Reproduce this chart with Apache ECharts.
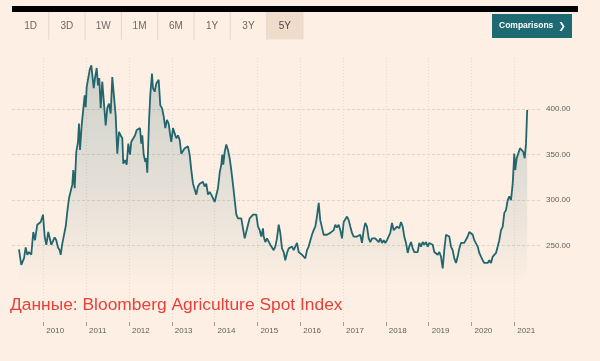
<!DOCTYPE html>
<html>
<head>
<meta charset="utf-8">
<script src="https://cdn.jsdelivr.net/npm/echarts@6/dist/echarts.min.js"></script>
<style>
html,body{margin:0;padding:0;background:#fdefe4;}
#chart{width:600px;height:361px;}
</style>
</head>
<body>
<div id="chart"></div>
<script>
// Data (fractional year offsets from 2009, index value)
const yearOffsets = [
0.432,0.486,0.549,0.589,0.626,0.666,0.719,0.766,0.806,0.859,0.899,0.939,0.993,1.032,1.070,1.116,1.149,1.186,1.226,1.266,
1.303,1.343,1.383,1.406,1.443,1.483,1.523,1.560,1.600,1.639,1.677,1.700,1.733,1.770,1.810,1.833,1.857,1.896,1.934,1.966,
1.990,2.013,2.050,2.083,2.121,2.160,2.177,2.207,2.247,2.277,2.307,2.340,2.377,2.417,2.457,2.494,2.534,2.574,2.611,2.651,
2.690,2.728,2.767,2.807,2.845,2.868,2.908,2.947,2.985,3.024,3.055,3.101,3.141,3.181,3.218,3.258,3.288,3.312,3.344,3.382,
3.405,3.428,3.468,3.498,3.538,3.561,3.601,3.639,3.662,3.694,3.732,3.772,3.811,3.849,3.888,3.928,3.958,3.989,4.028,4.068,
4.106,4.145,4.185,4.222,4.262,4.302,4.339,4.379,4.418,4.456,4.496,4.535,4.573,4.612,4.652,4.689,4.729,4.769,4.806,4.846,
4.886,4.923,4.963,5.002,5.040,5.079,5.119,5.157,5.180,5.203,5.236,5.273,5.313,5.352,5.390,5.430,5.469,5.507,5.546,5.586,
5.624,5.663,5.703,5.740,5.780,5.820,5.857,5.897,5.936,5.974,6.014,6.053,6.091,6.130,6.147,6.184,6.224,6.263,6.301,6.341,
6.380,6.418,6.457,6.497,6.534,6.574,6.614,6.651,6.691,6.731,6.768,6.808,6.847,6.885,6.924,6.964,7.001,7.041,7.081,7.118,
7.158,7.197,7.235,7.274,7.314,7.352,7.391,7.431,7.468,7.508,7.547,7.585,7.625,7.664,7.702,7.742,7.781,7.819,7.858,7.898,
7.936,7.975,8.015,8.053,8.092,8.132,8.169,8.209,8.248,8.286,8.326,8.365,8.403,8.442,8.482,8.519,8.559,8.599,8.636,8.676,
8.716,8.753,8.793,8.832,8.870,8.909,8.949,8.987,9.026,9.066,9.103,9.143,9.183,9.220,9.260,9.276,9.313,9.353,9.393,9.430,
9.470,9.510,9.547,9.587,9.626,9.664,9.703,9.743,9.780,9.820,9.860,9.897,9.937,9.977,10.014,10.054,10.093,10.131,10.171,10.210,
10.248,10.287,10.327,10.364,10.404,10.444,10.481,10.521,10.560,10.598,10.638,10.677,10.715,10.754,10.794,10.831,10.871,10.911,10.948,10.988,
11.028,11.065,11.105,11.144,11.182,11.221,11.261,11.298,11.338,11.378,11.415,11.455,11.495,11.532,11.572,11.611,11.649,11.689,11.728,11.766,
11.805,11.845,11.882,11.922,11.962,11.999,12.022,12.055,12.092,12.132,12.172,12.209,12.242,12.272,12.300
];
const indexValues = [
246,229,236,248,240,243,240,265,256,273,271,276,284,260,251,265,267,251,249,259,
256,248,245,240,252,252,271,287,302,304,317,333,313,353,364,384,355,382,384,415,
402,424,423,443,448,450,423,434,445,426,434,401,430,428,382,401,406,395,435,437,
393,351,375,371,368,340,344,339,362,350,364,365,371,377,375,379,362,371,350,342,
346,330,386,415,439,423,419,428,426,432,404,401,392,379,388,384,373,364,379,381,
368,371,366,351,353,357,355,359,350,333,318,319,306,315,318,317,320,315,318,306,
309,306,306,298,297,313,330,339,350,339,353,361,355,346,333,317,318,284,280,282,
280,269,258,259,273,280,282,284,282,284,271,267,260,269,260,254,258,256,251,252,
245,249,258,273,264,247,243,234,242,247,249,249,245,247,253,243,242,240,240,236,
245,249,247,262,267,271,282,297,278,278,262,260,262,260,264,265,267,273,270,273,
267,258,276,278,282,278,271,264,260,262,260,258,262,253,267,275,271,258,254,258,
256,258,256,254,258,253,256,253,256,258,264,275,267,269,271,273,269,276,271,260,
253,242,249,254,247,243,242,243,253,249,254,251,254,249,253,253,251,243,245,240,
243,238,225,245,262,260,260,249,245,236,231,238,247,253,253,253,253,260,265,267,
262,256,258,249,242,238,234,231,229,231,234,231,238,238,242,249,256,267,271,286,
289,300,304,300,318,351,333,346,346,357,355,353,346,362,399
];
const baseYear = 2009;
const xTickYears = [2010,2011,2012,2013,2014,2015,2016,2017,2018,2019,2020,2021];
const yTickValues = [250,300,350,400];
const periods = ['1D','3D','1W','1M','6M','1Y','3Y','5Y'];
const activePeriod = '5Y';
const sourceText = 'Данные: Bloomberg Agriculture Spot Index';

const seriesData = yearOffsets.map((t,i)=>[baseYear + t, indexValues[i]]);

const chart = echarts.init(document.getElementById('chart'), null, {renderer:'canvas'});

// header graphics
const graphics = [];
graphics.push({type:'rect', shape:{x:12,y:6,width:566,height:6}, style:{fill:'#000'}, silent:true});
const btnLeft = 12, btnW = 36.3;
periods.forEach((p,i)=>{
  const x0 = btnLeft + i*btnW;
  if (p === activePeriod) {
    graphics.push({type:'rect', shape:{x:x0+0.5,y:12,width:btnW,height:27.5}, style:{fill:'#f0dccb'}, silent:true});
  }
  graphics.push({type:'line', shape:{x1:x0+btnW+0.5,y1:12,x2:x0+btnW+0.5,y2:39.5}, style:{stroke:'#e6d6c9',lineWidth:1}, silent:true});
  graphics.push({type:'text', x:x0+btnW/2+0.5, y:26.5, style:{text:p, fill: p===activePeriod ? '#4a4541' : '#6e6762', font:'10px "Liberation Sans", Arial, sans-serif', align:'center', verticalAlign:'middle'}, silent:true});
});
graphics.push({type:'rect', shape:{x:492,y:14,width:80,height:24}, style:{fill:'#1d6a73'}, silent:true});
graphics.push({type:'text', x:499, y:26, style:{text:'Comparisons', fill:'#ffffff', font:'bold 8.5px "Liberation Sans", Arial, sans-serif', align:'left', verticalAlign:'middle'}, silent:true});
graphics.push({type:'text', x:562, y:26.5, style:{text:'❯', fill:'#ffffff', font:'bold 9px "DejaVu Sans", sans-serif', align:'center', verticalAlign:'middle'}, silent:true});
graphics.push({type:'text', x:10, y:305, style:{text:sourceText, fill:'#e8413a', font:'17.4px "Liberation Sans", Arial, sans-serif', align:'left', verticalAlign:'middle'}, silent:true, z:100});

const option = {
  backgroundColor:'#fdefe4',
  animation:false,
  grid:{left:12, right:58, top:58, bottom:39, containLabel:false},
  xAxis:{
    type:'value', min:2009.269, max:2021.646,
    axisLine:{show:false},
    axisTick:{show:true, customValues:xTickYears, length:4, lineStyle:{color:'#a39a93', width:1}},
    axisLabel:{customValues:xTickYears, formatter:(v)=>String(Math.round(v)), color:'#66605c', fontSize:8, fontFamily:'"Liberation Sans", Arial, sans-serif', align:'left', padding:[0,0,0,3], margin:5},
    splitLine:{show:true, lineStyle:{color:'#e6d9ce', type:[1,2], width:1}}
  },
  yAxis:{
    type:'value', position:'right', min:166.2, max:456,
    axisLine:{show:false},
    axisTick:{show:false, customValues:yTickValues},
    axisLabel:{customValues:yTickValues, formatter:(v)=>v.toFixed(2), color:'#66605c', fontSize:8, fontFamily:'"Liberation Sans", Arial, sans-serif', margin:4},
    splitLine:{show:true, lineStyle:{color:'#e4d3c6', type:[3,2], width:1}}
  },
  series:[{
    type:'line', data:seriesData, showSymbol:false, symbol:'none',
    lineStyle:{color:'#22666e', width:1.8},
    areaStyle:{origin:'start', color:{type:'linear', x:0,y:0,x2:0,y2:1, colorStops:[
      {offset:0, color:'rgba(31,99,107,0.30)'},
      {offset:0.45, color:'rgba(31,99,107,0.17)'},
      {offset:0.7, color:'rgba(31,99,107,0.07)'},
      {offset:0.86, color:'rgba(31,99,107,0)'},
      {offset:1, color:'rgba(31,99,107,0)'}
    ]}},
    z:3
  }],
  graphic:graphics
};
chart.setOption(option);
</script>
</body>
</html>
